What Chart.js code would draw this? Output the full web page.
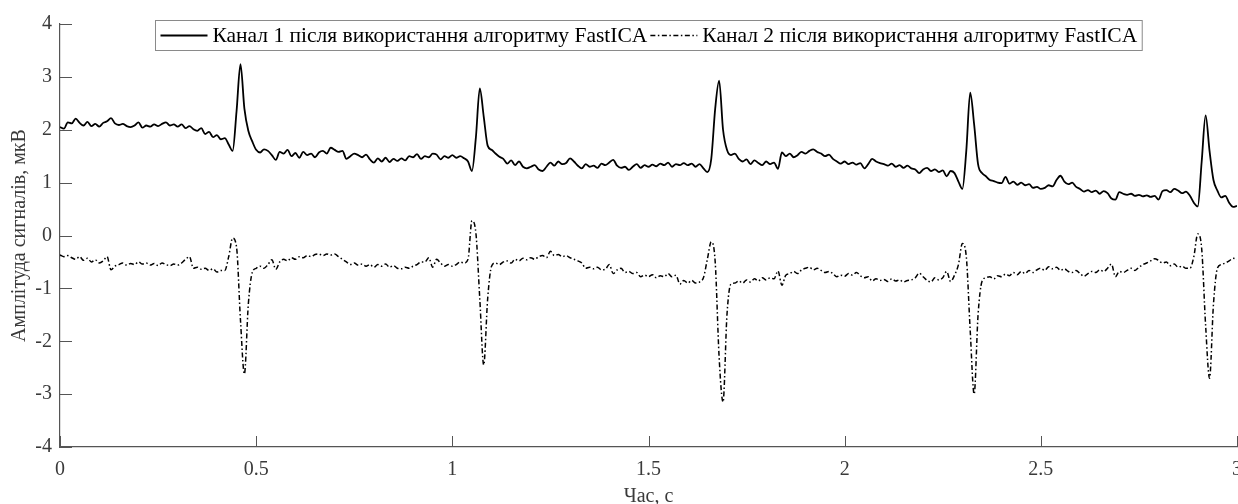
<!DOCTYPE html>
<html>
<head>
<meta charset="utf-8">
<script src="https://cdn.jsdelivr.net/npm/chart.js@4"></script>
<style>
  html, body { margin: 0; padding: 0; background: #fff; overflow: hidden; }
  canvas { display: block; }
</style>
</head>
<body>
<canvas id="myChart" width="1253" height="504"></canvas>
<script>
// sample times, s
const time = [
  0.00, 0.01, 0.02, 0.03, 0.04, 0.05, 0.06, 0.07, 0.08, 0.09,
  0.10, 0.11, 0.12, 0.13, 0.14, 0.15, 0.16, 0.17, 0.18, 0.19,
  0.20, 0.21, 0.22, 0.23, 0.24, 0.25, 0.26, 0.27, 0.28, 0.29,
  0.30, 0.31, 0.32, 0.33, 0.34, 0.35, 0.36, 0.37, 0.38, 0.39,
  0.40, 0.41, 0.42, 0.43, 0.44, 0.45, 0.46, 0.47, 0.48, 0.49,
  0.50, 0.51, 0.52, 0.53, 0.54, 0.55, 0.56, 0.57, 0.58, 0.59,
  0.60, 0.61, 0.62, 0.63, 0.64, 0.65, 0.66, 0.67, 0.68, 0.69,
  0.70, 0.71, 0.72, 0.73, 0.74, 0.75, 0.76, 0.77, 0.78, 0.79,
  0.80, 0.81, 0.82, 0.83, 0.84, 0.85, 0.86, 0.87, 0.88, 0.89,
  0.90, 0.91, 0.92, 0.93, 0.94, 0.95, 0.96, 0.97, 0.98, 0.99,
  1.00, 1.01, 1.02, 1.03, 1.04, 1.05, 1.06, 1.07, 1.08, 1.09,
  1.10, 1.11, 1.12, 1.13, 1.14, 1.15, 1.16, 1.17, 1.18, 1.19,
  1.20, 1.21, 1.22, 1.23, 1.24, 1.25, 1.26, 1.27, 1.28, 1.29,
  1.30, 1.31, 1.32, 1.33, 1.34, 1.35, 1.36, 1.37, 1.38, 1.39,
  1.40, 1.41, 1.42, 1.43, 1.44, 1.45, 1.46, 1.47, 1.48, 1.49,
  1.50, 1.51, 1.52, 1.53, 1.54, 1.55, 1.56, 1.57, 1.58, 1.59,
  1.60, 1.61, 1.62, 1.63, 1.64, 1.65, 1.66, 1.67, 1.68, 1.69,
  1.70, 1.71, 1.72, 1.73, 1.74, 1.75, 1.76, 1.77, 1.78, 1.79,
  1.80, 1.81, 1.82, 1.83, 1.84, 1.85, 1.86, 1.87, 1.88, 1.89,
  1.90, 1.91, 1.92, 1.93, 1.94, 1.95, 1.96, 1.97, 1.98, 1.99,
  2.00, 2.01, 2.02, 2.03, 2.04, 2.05, 2.06, 2.07, 2.08, 2.09,
  2.10, 2.11, 2.12, 2.13, 2.14, 2.15, 2.16, 2.17, 2.18, 2.19,
  2.20, 2.21, 2.22, 2.23, 2.24, 2.25, 2.26, 2.27, 2.28, 2.29,
  2.30, 2.31, 2.32, 2.33, 2.34, 2.35, 2.36, 2.37, 2.38, 2.39,
  2.40, 2.41, 2.42, 2.43, 2.44, 2.45, 2.46, 2.47, 2.48, 2.49,
  2.50, 2.51, 2.52, 2.53, 2.54, 2.55, 2.56, 2.57, 2.58, 2.59,
  2.60, 2.61, 2.62, 2.63, 2.64, 2.65, 2.66, 2.67, 2.68, 2.69,
  2.70, 2.71, 2.72, 2.73, 2.74, 2.75, 2.76, 2.77, 2.78, 2.79,
  2.80, 2.81, 2.82, 2.83, 2.84, 2.85, 2.86, 2.87, 2.88, 2.89,
  2.90, 2.91, 2.92, 2.93, 2.94, 2.95, 2.96, 2.97, 2.98, 2.99, 3.00
];

// channel 1 after FastICA, mV
const channel1 = [
  2.05, 2.02, 2.14, 2.12, 2.21, 2.13, 2.08, 2.15, 2.07, 2.11,
  2.06, 2.13, 2.16, 2.22, 2.12, 2.09, 2.11, 2.07, 2.05, 2.08,
  2.14, 2.04, 2.08, 2.06, 2.10, 2.07, 2.11, 2.14, 2.08, 2.10,
  2.06, 2.10, 2.03, 2.07, 2.01, 1.98, 2.03, 1.92, 1.96, 1.86,
  1.90, 1.82, 1.84, 1.72, 1.60, 2.35, 3.24, 2.40, 1.98, 1.78,
  1.62, 1.57, 1.63, 1.60, 1.52, 1.43, 1.58, 1.55, 1.62, 1.50,
  1.56, 1.47, 1.58, 1.52, 1.55, 1.48, 1.57, 1.60, 1.55, 1.66,
  1.62, 1.58, 1.60, 1.45, 1.50, 1.55, 1.52, 1.48, 1.53, 1.44,
  1.38, 1.46, 1.40, 1.47, 1.39, 1.45, 1.41, 1.46, 1.42, 1.50,
  1.48, 1.54, 1.45, 1.50, 1.48, 1.55, 1.53, 1.44, 1.50, 1.47,
  1.52, 1.47, 1.50, 1.46, 1.40, 1.22, 1.85, 2.78, 2.25, 1.70,
  1.62, 1.55, 1.49, 1.45, 1.36, 1.42, 1.33, 1.40, 1.30, 1.27,
  1.30, 1.33, 1.25, 1.22, 1.30, 1.38, 1.32, 1.40, 1.35, 1.37,
  1.46, 1.40, 1.32, 1.27, 1.35, 1.30, 1.32, 1.28, 1.36, 1.33,
  1.38, 1.43, 1.32, 1.28, 1.30, 1.24, 1.30, 1.35, 1.28, 1.33,
  1.30, 1.34, 1.31, 1.36, 1.33, 1.38, 1.30, 1.35, 1.33, 1.37,
  1.33, 1.36, 1.30, 1.35, 1.27, 1.20, 1.45, 2.40, 2.93, 2.00,
  1.62, 1.52, 1.55, 1.45, 1.40, 1.44, 1.35, 1.42, 1.37, 1.33,
  1.40, 1.35, 1.38, 1.26, 1.57, 1.50, 1.55, 1.48, 1.52, 1.58,
  1.55, 1.60, 1.63, 1.58, 1.55, 1.50, 1.53, 1.45, 1.40, 1.36,
  1.40, 1.35, 1.38, 1.34, 1.37, 1.27, 1.35, 1.45, 1.40, 1.37,
  1.35, 1.32, 1.36, 1.30, 1.33, 1.28, 1.32, 1.27, 1.25, 1.18,
  1.25, 1.28, 1.22, 1.25, 1.20, 1.23, 1.12, 1.22, 1.18, 1.02,
  0.88, 1.60, 2.70, 2.10, 1.35, 1.18, 1.12, 1.05, 1.03, 1.00,
  0.99, 1.11, 0.98, 1.02, 0.96, 1.00, 0.95, 0.97, 0.90, 0.92,
  0.88, 0.90, 0.95, 0.93, 1.05, 1.13, 1.02, 0.97, 1.00, 0.92,
  0.88, 0.83, 0.86, 0.82, 0.85, 0.79, 0.84, 0.80, 0.70, 0.68,
  0.82, 0.79, 0.77, 0.79, 0.75, 0.77, 0.74, 0.76, 0.73, 0.75,
  0.68, 0.84, 0.86, 0.82, 0.88, 0.85, 0.80, 0.83, 0.75, 0.62,
  0.55, 1.40, 2.27, 1.60, 1.05, 0.85, 0.72, 0.75, 0.62, 0.54, 0.56
];

// channel 2 after FastICA, mV
const channel2 = [
  -0.37, -0.40, -0.38, -0.42, -0.45, -0.40, -0.47, -0.43, -0.50, -0.46,
  -0.52, -0.48, -0.40, -0.65, -0.58, -0.55, -0.52, -0.56, -0.53, -0.55,
  -0.50, -0.54, -0.52, -0.56, -0.53, -0.57, -0.52, -0.55, -0.57, -0.54,
  -0.56, -0.52, -0.45, -0.40, -0.62, -0.60, -0.64, -0.62, -0.66, -0.63,
  -0.69, -0.66, -0.66, -0.40, -0.05, -0.22, -1.60, -2.62, -1.30, -0.70,
  -0.62, -0.58, -0.62, -0.55, -0.46, -0.64, -0.50, -0.45, -0.48, -0.42,
  -0.45, -0.40, -0.42, -0.38, -0.40, -0.36, -0.35, -0.38, -0.35, -0.37,
  -0.35, -0.40, -0.45, -0.50, -0.55, -0.52, -0.56, -0.54, -0.58, -0.55,
  -0.60, -0.55, -0.58, -0.54, -0.60, -0.57, -0.62, -0.63, -0.60, -0.62,
  -0.58, -0.55, -0.50, -0.50, -0.42, -0.60, -0.45, -0.52, -0.58, -0.55,
  -0.58, -0.55, -0.50, -0.52, -0.45, 0.28, 0.05, -1.20, -2.45, -1.20,
  -0.58, -0.52, -0.55, -0.50, -0.48, -0.52, -0.45, -0.48, -0.43, -0.46,
  -0.42, -0.45, -0.40, -0.38, -0.42, -0.30, -0.38, -0.36, -0.40, -0.38,
  -0.42, -0.45, -0.48, -0.52, -0.62, -0.60, -0.63, -0.60, -0.65, -0.64,
  -0.55, -0.72, -0.65, -0.62, -0.70, -0.68, -0.72, -0.70, -0.78, -0.75,
  -0.78, -0.74, -0.80, -0.76, -0.78, -0.72, -0.78, -0.75, -0.92, -0.85,
  -0.90, -0.85, -0.90, -0.88, -0.80, -0.45, -0.12, -0.50, -2.30, -3.15,
  -1.50, -0.92, -0.90, -0.86, -0.90, -0.84, -0.88, -0.82, -0.86, -0.80,
  -0.84, -0.80, -0.82, -0.67, -0.94, -0.75, -0.72, -0.68, -0.72, -0.65,
  -0.62, -0.60, -0.65, -0.62, -0.66, -0.70, -0.68, -0.72, -0.78, -0.75,
  -0.77, -0.72, -0.75, -0.70, -0.76, -0.80, -0.78, -0.86, -0.82, -0.85,
  -0.83, -0.87, -0.82, -0.86, -0.84, -0.88, -0.85, -0.84, -0.80, -0.71,
  -0.78, -0.85, -0.88, -0.80, -0.84, -0.80, -0.68, -0.87, -0.75, -0.55,
  -0.15, -0.40, -1.80, -3.00, -1.50, -0.87, -0.80, -0.78, -0.82, -0.76,
  -0.78, -0.73, -0.76, -0.70, -0.74, -0.68, -0.72, -0.66, -0.70, -0.65,
  -0.62, -0.66, -0.59, -0.63, -0.60, -0.66, -0.63, -0.68, -0.70, -0.66,
  -0.72, -0.77, -0.72, -0.68, -0.70, -0.65, -0.68, -0.62, -0.54, -0.78,
  -0.68, -0.70, -0.66, -0.62, -0.66, -0.60, -0.55, -0.52, -0.48, -0.44,
  -0.47, -0.52, -0.50, -0.57, -0.54, -0.60, -0.58, -0.62, -0.62, -0.40,
  0.03, -0.25, -1.70, -2.70, -1.30, -0.62, -0.55, -0.52, -0.48, -0.43, -0.45
];

const seriesLabels = [
  'Канал 1 після використання алгоритму FastICA',
  'Канал 2 після використання алгоритму FastICA'
];
const xTitle = 'Час, с';
const yTitle = 'Амплітуда сигналів, мкВ';

const FONT = '"Liberation Serif", "Times New Roman", serif';
const AXIS_GREY = '#555555';
const TEXT_GREY = '#3a3a3a';

const toPoints = (ys) => ys.map((y, i) => ({ x: time[i], y: y }));

// inward tick marks like the original figure
const innerTicks = {
    id: 'innerTicks',
    afterDraw(chart) {
        const { ctx, chartArea, scales } = chart;
        ctx.save();
        ctx.strokeStyle = AXIS_GREY;
        ctx.lineWidth = 1;
        scales.x.ticks.forEach(t => {
            const px = Math.round(scales.x.getPixelForValue(t.value)) + 0.5;
            ctx.beginPath();
            ctx.moveTo(px, chartArea.bottom);
            ctx.lineTo(px, chartArea.bottom - 11);
            ctx.stroke();
        });
        scales.y.ticks.forEach(t => {
            const py = Math.round(scales.y.getPixelForValue(t.value)) + 0.5;
            ctx.beginPath();
            ctx.moveTo(chartArea.left, py);
            ctx.lineTo(chartArea.left + 12, py);
            ctx.stroke();
        });
        ctx.restore();
    }
};

// legend in one framed row at the top of the plot
const boxedLegend = {
    id: 'boxedLegend',
    afterDraw(chart) {
        const { ctx, chartArea } = chart;
        const datasets = chart.data.datasets;
        ctx.save();
        ctx.font = '21.5px ' + FONT;
        const pad = 5, sample = 47, gap = 5, between = 3;
        const widths = datasets.map(ds => ctx.measureText(ds.label).width);
        let total = pad * 2;
        widths.forEach((w, i) => { total += sample + gap + w + (i ? between : 0); });
        const h = 30;
        const left = Math.round((chartArea.left + chartArea.right) / 2 - total / 2) + 0.5;
        const top = Math.round(chartArea.top - 4) + 0.5;

        ctx.fillStyle = '#fff';
        ctx.fillRect(left, top, total, h);
        ctx.strokeStyle = '#8a8a8a';
        ctx.lineWidth = 1;
        ctx.strokeRect(left, top, total, h);

        let x = left + pad;
        const cy = top + h / 2;
        datasets.forEach((ds, i) => {
            if (i) x += between;
            ctx.strokeStyle = ds.borderColor;
            ctx.lineWidth = ds.borderWidth;
            ctx.setLineDash(ds.borderDash || []);
            ctx.beginPath();
            ctx.moveTo(x, cy);
            ctx.lineTo(x + sample, cy);
            ctx.stroke();
            ctx.setLineDash([]);
            x += sample + gap;
            ctx.fillStyle = '#000';
            ctx.textBaseline = 'middle';
            ctx.fillText(ds.label, x, cy + 1);
            x += widths[i];
        });
        ctx.restore();
    }
};

const ctx = document.getElementById('myChart').getContext('2d');

new Chart(ctx, {
    type: 'line',
    data: {
        datasets: [
            {
                label: seriesLabels[0],
                data: toPoints(channel1),
                borderColor: '#000',
                borderWidth: 1.8,
                pointRadius: 0,
                cubicInterpolationMode: 'monotone',
                fill: false
            },
            {
                label: seriesLabels[1],
                data: toPoints(channel2),
                borderColor: '#000',
                borderWidth: 1.5,
                borderDash: [5, 2.5, 1.5, 2.5],
                pointRadius: 0,
                cubicInterpolationMode: 'monotone',
                fill: false
            }
        ]
    },
    options: {
        responsive: false,
        animation: false,
        devicePixelRatio: 1,
        layout: { padding: { left: 0, right: 12, top: 24, bottom: 0 } },
        plugins: {
            legend: { display: false },
            tooltip: { enabled: false }
        },
        scales: {
            x: {
                type: 'linear',
                min: 0,
                max: 3,
                ticks: {
                    stepSize: 0.5,
                    padding: 11,
                    maxRotation: 0,
                    color: TEXT_GREY,
                    font: { family: FONT, size: 20 },
                    callback: (v) => String(Math.round(v * 10) / 10)
                },
                grid: { display: false, drawTicks: false },
                border: { display: true, color: AXIS_GREY, width: 1.2 },
                title: {
                    display: true,
                    text: xTitle,
                    color: TEXT_GREY,
                    padding: { top: 0, bottom: 0 },
                    font: { family: FONT, size: 20, lineHeight: 0.75 }
                },
                afterFit(scale) { scale.height = 57; }
            },
            y: {
                min: -4,
                max: 4,
                ticks: {
                    stepSize: 1,
                    padding: 8,
                    color: TEXT_GREY,
                    font: { family: FONT, size: 20 }
                },
                grid: { display: false, drawTicks: false },
                border: { display: true, color: AXIS_GREY, width: 1.2 },
                title: {
                    display: true,
                    text: yTitle,
                    color: TEXT_GREY,
                    padding: { top: 10, bottom: 0 },
                    font: { family: FONT, size: 20, lineHeight: 1.0 }
                },
                afterFit(scale) { scale.width = 60; }
            }
        }
    },
    plugins: [innerTicks, boxedLegend]
});
</script>
</body>
</html>
